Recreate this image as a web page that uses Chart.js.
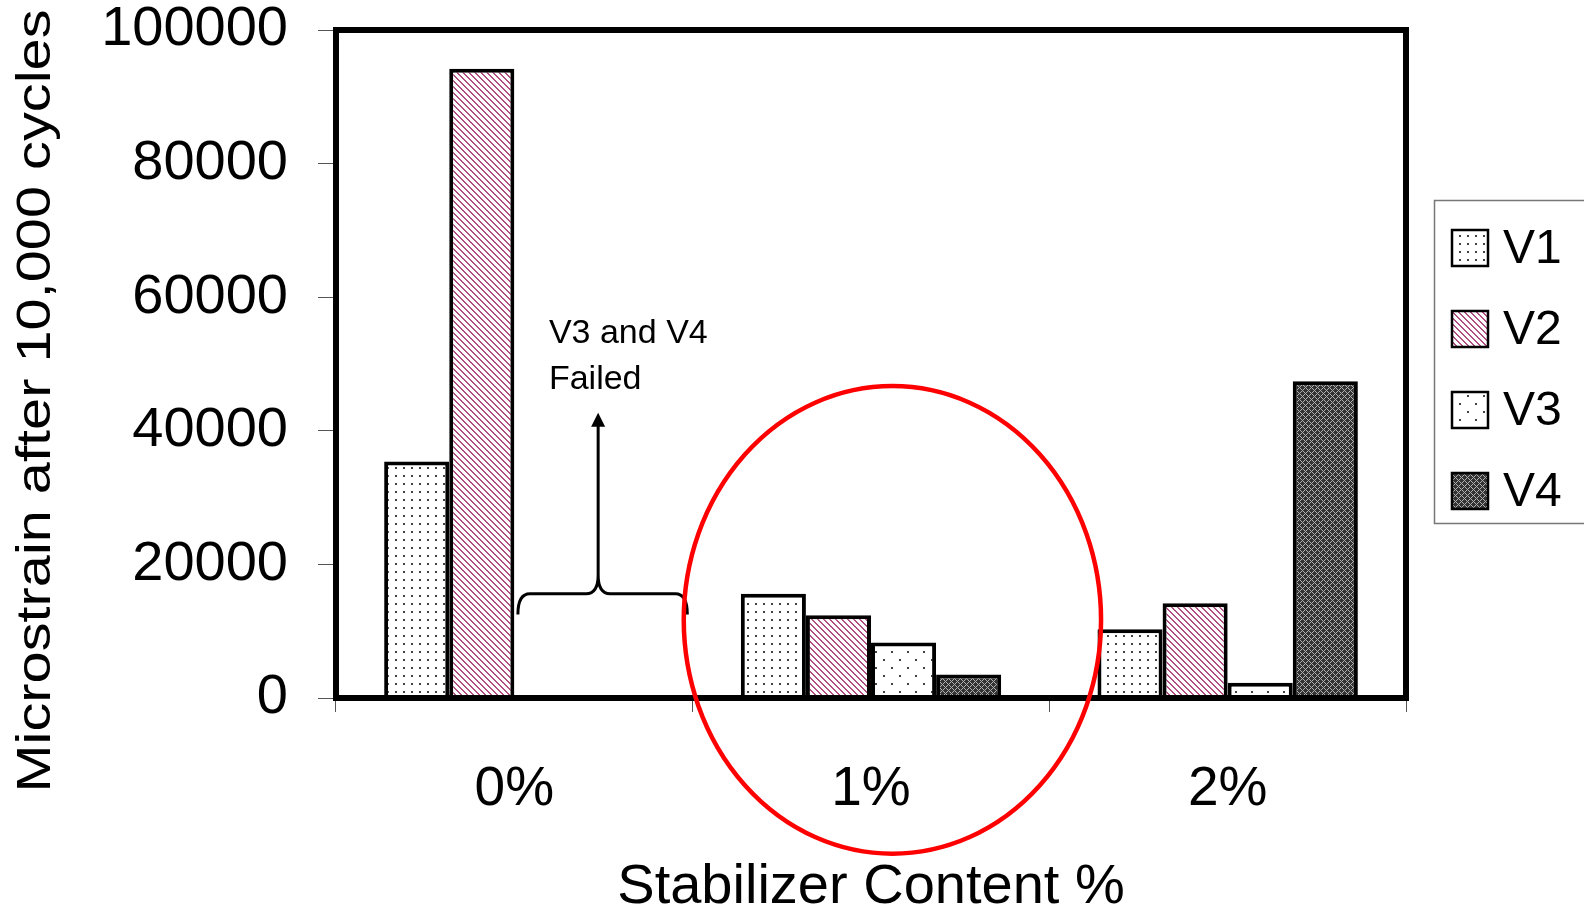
<!DOCTYPE html>
<html>
<head>
<meta charset="utf-8">
<script src="https://cdn.jsdelivr.net/npm/chart.js@4.4.0/dist/chart.umd.min.js"></script>
<style>
  body { margin: 0; background: #fff; }
</style>
</head>
<body>
<canvas id="chart" width="1584" height="910"></canvas>
<script>
// data
const categories = ['0%', '1%', '2%'];
const seriesNames = ['V1', 'V2', 'V3', 'V4'];
const v1 = [35400, 15600, 10300];
const v2 = [94200, 12400, 14200];
const v3 = [null, 8300, 2300];   // V3 and V4 failed at 0%
const v4 = [null, 3500, 47400];
const yTicks = [0, 20000, 40000, 60000, 80000, 100000];

const FONT = '"Liberation Sans", Arial, sans-serif';
const yTitle = 'Microstrain after 10,000 cycles';
const xTitle = 'Stabilizer Content %';
const noteLines = ['V3 and V4', 'Failed'];

// fill patterns
function makeTile(w, h, draw) {
  const c = document.createElement('canvas');
  c.width = w; c.height = h;
  const g = c.getContext('2d');
  draw(g, w, h);
  return c;
}
const ctx0 = document.getElementById('chart').getContext('2d');

const dotsFine = ctx0.createPattern(makeTile(8, 8, (g) => {
  g.fillStyle = '#fff'; g.fillRect(0, 0, 8, 8);
  g.fillStyle = '#444'; g.fillRect(3, 3, 2, 2);
}), 'repeat');

const stripes = ctx0.createPattern(makeTile(6, 6, (g, w, h) => {
  g.fillStyle = '#fff'; g.fillRect(0, 0, w, h);
  g.fillStyle = '#b24f82';
  for (let px = 0; px < w; px++)
    for (let py = 0; py < h; py++)
      if (((px - py) % 6 + 6) % 6 < 2) g.fillRect(px, py, 1, 1);
}), 'repeat');

const dotsSparse = ctx0.createPattern(makeTile(16, 16, (g) => {
  g.fillStyle = '#fff'; g.fillRect(0, 0, 16, 16);
  g.fillStyle = '#444';
  g.fillRect(3, 3, 2, 2);
  g.fillRect(11, 11, 2, 2);
}), 'repeat');

const hatch = ctx0.createPattern(makeTile(6, 6, (g, w, h) => {
  g.fillStyle = '#333'; g.fillRect(0, 0, w, h);
  g.fillStyle = '#b0b0b0';
  for (let px = 0; px < w; px++)
    for (let py = 0; py < h; py++)
      if ((px + py) % 6 === 0 || ((px - py) % 6 + 6) % 6 === 0) g.fillRect(px, py, 1, 1);
}), 'repeat');

const fills = [dotsFine, stripes, dotsSparse, hatch];
const values = [v1, v2, v3, v4];

const decor = {
  id: 'decor',
  afterDatasetsDraw(chart) {
    const { ctx, chartArea: a, scales: { x, y } } = chart;
    ctx.save();

    // plot frame
    ctx.strokeStyle = '#000';
    ctx.lineWidth = 6;
    ctx.strokeRect(a.left, a.top, a.right - a.left, a.bottom - a.top);

    // brace over the missing V3/V4 bars at 0%
    const bx0 = x.getPixelForValue(0.01), bx1 = x.getPixelForValue(0.485);
    const bxc = x.getPixelForValue(0.235);
    const yb = y.getPixelForValue(12500), yh = y.getPixelForValue(15600), yc = y.getPixelForValue(18400);
    const r = 12;
    ctx.lineWidth = 3;
    ctx.beginPath();
    ctx.moveTo(bx0, yb);
    ctx.quadraticCurveTo(bx0, yh, bx0 + r, yh);
    ctx.lineTo(bxc - r, yh);
    ctx.quadraticCurveTo(bxc, yh, bxc, yc);
    ctx.quadraticCurveTo(bxc, yh, bxc + r, yh);
    ctx.lineTo(bx1 - r, yh);
    ctx.quadraticCurveTo(bx1, yh, bx1, yb);
    ctx.stroke();

    // arrow
    const tip = y.getPixelForValue(42700);
    ctx.beginPath();
    ctx.moveTo(bxc, yc);
    ctx.lineTo(bxc, tip + 12);
    ctx.stroke();
    ctx.fillStyle = '#000';
    ctx.beginPath();
    ctx.moveTo(bxc, tip);
    ctx.lineTo(bxc - 7, tip + 14);
    ctx.lineTo(bxc + 7, tip + 14);
    ctx.closePath();
    ctx.fill();

    // note text
    ctx.font = '34px ' + FONT;
    ctx.textAlign = 'left';
    ctx.textBaseline = 'middle';
    const tx = x.getPixelForValue(0.097);
    ctx.fillText(noteLines[0], tx, y.getPixelForValue(54600));
    ctx.fillText(noteLines[1], tx, y.getPixelForValue(47600));

    // red ellipse around 1%
    const ecx = x.getPixelForValue(1.06), ecy = y.getPixelForValue(11700);
    const erx = x.getPixelForValue(1.06 + 0.585) - ecx;
    const ery = ecy - y.getPixelForValue(11700 + 35000);
    ctx.strokeStyle = '#ff0000';
    ctx.lineWidth = 4.5;
    ctx.beginPath();
    ctx.ellipse(ecx, ecy, erx, ery, 0, 0, Math.PI * 2);
    ctx.stroke();

    ctx.restore();
  },
  afterDraw(chart) {
    const { ctx } = chart;
    ctx.save();

    // y axis title, drawn by hand so it can sit where the original has it
    ctx.translate(50, 401);
    ctx.rotate(-Math.PI / 2);
    ctx.font = '49px ' + FONT;
    const w = ctx.measureText(yTitle).width;
    ctx.scale(783 / w, 1);
    ctx.textAlign = 'center';
    ctx.textBaseline = 'alphabetic';
    ctx.fillStyle = '#000';
    ctx.fillText(yTitle, 0, 0);
    ctx.restore();

    // legend box
    ctx.save();
    ctx.strokeStyle = '#777';
    ctx.lineWidth = 1.5;
    ctx.strokeRect(1434.5, 200.5, 200, 323);
    ctx.font = '48px ' + FONT;
    ctx.textBaseline = 'middle';
    chart.data.datasets.forEach((ds, i) => {
      const cy = 248 + i * 81;
      ctx.fillStyle = ds.backgroundColor;
      ctx.fillRect(1452, cy - 18, 36, 36);
      ctx.strokeStyle = '#000';
      ctx.lineWidth = 2.5;
      ctx.strokeRect(1452, cy - 18, 36, 36);
      ctx.fillStyle = '#000';
      ctx.fillText(ds.label, 1503, cy + 2);
    });
    ctx.restore();
  }
};

new Chart(ctx0, {
  type: 'bar',
  data: {
    labels: categories,
    datasets: seriesNames.map((name, i) => ({
      label: name,
      data: values[i],
      backgroundColor: fills[i],
      borderColor: '#000',
      borderWidth: 4,
      borderSkipped: 'start'
    }))
  },
  options: {
    responsive: false,
    animation: false,
    devicePixelRatio: 1,
    layout: { autoPadding: false, padding: { left: 0, right: 178, top: 30, bottom: 0 } },
    datasets: { bar: { barPercentage: 1, categoryPercentage: 0.73 } },
    plugins: { legend: { display: false }, tooltip: { enabled: false } },
    scales: {
      x: {
        afterFit: (s) => { s.height = 212; s.paddingLeft = 0; s.paddingRight = 0; },
        border: { display: false },
        grid: { drawOnChartArea: false, tickLength: 14, color: '#555', lineWidth: 1 },
        ticks: { color: '#000', font: { family: FONT, size: 55 }, padding: 45 },
        title: {
          display: true, text: xTitle, color: '#000',
          font: { family: FONT, size: 56, lineHeight: 0.8 }, padding: 0
        }
      },
      y: {
        min: 0, max: 100000,
        afterFit: (s) => { s.width = 336; s.paddingTop = 0; s.paddingBottom = 0; },
        afterBuildTicks: (s) => { s.ticks = yTicks.map(v => ({ value: v })); },
        border: { display: false },
        grid: { drawOnChartArea: false, tickLength: 18, color: '#555', lineWidth: 1 },
        ticks: { color: '#000', font: { family: FONT, size: 56 }, padding: 30, callback: (v) => String(v) }
      }
    }
  },
  plugins: [decor]
});
</script>
</body>
</html>
